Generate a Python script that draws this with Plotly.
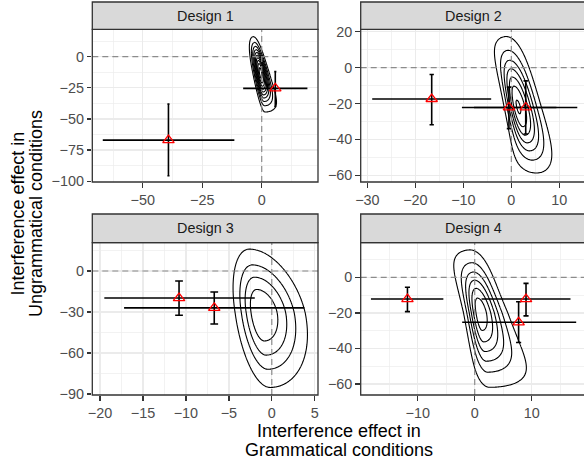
import numpy as np
import plotly.graph_objects as go

W, H = 584, 461

PANEL_TITLES = ["Design 1", "Design 2", "Design 3", "Design 4"]
X_TITLE_LINES = ["Interference effect in", "Grammatical conditions"]
Y_TITLE_LINES = ["Interference effect in", "Ungrammatical conditions"]

# ---- summary points (estimate + interval bounds) ----
PT_X = [[-39.2, 5.7], [-16.6, -0.5, 3.0], [-10.8, -6.7], [-11.8, 9.0, 7.7]]
PT_Y = [[-67.0, -25.5], [-17.5, -22.2, -22.2], [-19.8, -27.0], [-12.2, -12.2, -25.3]]
X_LO = [[-66.8, -7.8], [-29.0, -10.3, -7.8], [-19.5, -17.2], [-18.2, 1.2, -2.2]]
X_HI = [[-11.5, 19.2], [-4.2, 9.4, 13.75], [-1.98, 3.8], [-5.5, 16.8, 17.8]]
Y_LO = [[-95.6, -40.0], [-31.8, -34.0, -37.0], [-32.4, -38.8], [-19.3, -21.7, -36.7]]
Y_HI = [[-38.1, -12.0], [-3.9, -10.9, -7.4], [-7.3, -15.4], [-5.6, -3.4, -13.7]]

# ---- density shape parameters per panel (posterior density contours) ----
D_MY  = [-13.0, -22.0, -31.0, -20.0]
D_SYU = [13.4, 19.8, 26.2, 18.2]
D_SYD = [14.5, 18.5, 30.2, 21.5]
D_C0  = [-0.5, 1.4, -1.3, 0.9]
D_B1  = [-1.13, -1.576, -0.67, -0.888]
D_B2  = [-0.117, 0.173, -0.031, 0.0]
D_SL0 = [1.5, 1.46, 1.65, 1.47]
D_GL1 = [0.1, -0.048, 0.0, 0.143]
D_GL2 = [0.0, 0.227, 0.0, 0.159]
D_SR0 = [1.7, 2.45, 2.9, 2.52]
D_GR1 = [-0.3, -0.108, -0.05, -0.319]
D_GR2 = [0.1, 0.059, 0.0, 0.132]
LEVEL_STEP = [0.095, 0.14, 0.2, 0.15]
N_LEVELS = [10, 7, 4, 6]

# ---- axes ----
X_TICKS = [[-50, -25, 0], [-30, -20, -10, 0, 10], [-20, -15, -10, -5, 0, 5], [-10, 0, 10]]
Y_TICKS = [[0, -25, -50, -75, -100], [20, 0, -20, -40, -60], [0, -30, -60, -90], [0, -20, -40, -60]]
X_RANGE = [[-71.2, 23.65], [-31.4, 15.15], [-20.9, 5.38], [-20.0, 19.17]]
Y_RANGE = [[-100.6, 21.95], [-63.7, 21.3], [-90.7, 20.7], [-66.2, 19.5]]

CAP_WIDTH = 0.9  # data units

# layout in pixels
PX_L = [92.3, 360.7, 92.3, 360.7]
PX_R = [318.0, 584.0, 318.0, 584.0]
PX_T = [29.3, 29.3, 242.7, 242.7]
PX_B = [182.0, 182.0, 395.0, 395.0]
STRIP_T = [2.0, 2.0, 214.0, 214.0]

FONT = "Liberation Sans, Arial, sans-serif"


def fmt(v):
    s = f"{v:g}"
    return s.replace("-", "\u2212")


def density(X, Y, i):
    u = np.where(Y > D_MY[i], (Y - D_MY[i]) / D_SYU[i], (Y - D_MY[i]) / D_SYD[i])
    c = D_C0[i] + D_B1[i] * u + D_B2[i] * u ** 2
    sl = D_SL0[i] * np.exp(D_GL1[i] * u + D_GL2[i] * u ** 2)
    sr = D_SR0[i] * np.exp(D_GR1[i] * u + D_GR2[i] * u ** 2)
    v = np.where(X < c, (X - c) / sl, (X - c) / sr)
    return np.exp(-0.5 * (u ** 2 + v ** 2))


def minors(ticks, rng):
    t = sorted(ticks)
    step = t[1] - t[0]
    out = []
    v = t[0] - step / 2
    while v > rng[0]:
        out.append(v)
        v -= step
    v = t[0] + step / 2
    while v < rng[1]:
        out.append(v)
        v += step
    return out


fig = go.Figure()
shapes = []
annotations = []
layout_axes = {}

for i in range(4):
    k = i + 1
    sfx = "" if k == 1 else str(k)
    xa, ya = f"x{sfx}", f"y{sfx}"
    xr, yr = X_RANGE[i], Y_RANGE[i]

    # dashed zero reference lines
    dash = dict(color="#8C8C8C", width=1.2, dash="6px,4px")
    fig.add_trace(go.Scatter(x=[0, 0], y=yr, xaxis=xa, yaxis=ya, mode="lines", line=dash,
                             hoverinfo="skip", showlegend=False))
    fig.add_trace(go.Scatter(x=xr, y=[0, 0], xaxis=xa, yaxis=ya, mode="lines", line=dash,
                             hoverinfo="skip", showlegend=False))

    # density contours
    gx = np.linspace(xr[0], xr[1], 260)
    gy = np.linspace(yr[0], yr[1], 260)
    GX, GY = np.meshgrid(gx, gy)
    Z = density(GX, GY, i)
    s = LEVEL_STEP[i]
    fig.add_trace(go.Contour(
        x=gx, y=gy, z=Z, xaxis=xa, yaxis=ya,
        contours=dict(coloring="none", start=s, end=s * (N_LEVELS[i] + 0.5), size=s),
        line=dict(color="black", width=1.1), showscale=False, hoverinfo="skip",
        showlegend=False,
    ))

    # error bars + points
    ppu = (PX_R[i] - PX_L[i]) / (xr[1] - xr[0])
    px_ = PT_X[i]
    py_ = PT_Y[i]
    fig.add_trace(go.Scatter(
        x=px_, y=py_, xaxis=xa, yaxis=ya, mode="markers",
        marker=dict(symbol="triangle-up-open", size=10, color="red", line=dict(width=1.3, color="red")),
        error_x=dict(type="data", symmetric=False,
                     array=[h - x for h, x in zip(X_HI[i], px_)],
                     arrayminus=[x - l for l, x in zip(X_LO[i], px_)],
                     color="black", thickness=1.6, width=0),
        error_y=dict(type="data", symmetric=False,
                     array=[h - y for h, y in zip(Y_HI[i], py_)],
                     arrayminus=[y - l for l, y in zip(Y_LO[i], py_)],
                     color="black", thickness=1.6, width=CAP_WIDTH / 2 * ppu),
        hoverinfo="skip", showlegend=False,
    ))

    xdom = [PX_L[i] / W, PX_R[i] / W]
    ydom = [1 - PX_B[i] / H, 1 - PX_T[i] / H]
    common = dict(showgrid=True, gridcolor="#EBEBEB", gridwidth=1.3, zeroline=False,
                  ticks="outside", ticklen=4.5, tickwidth=1.3, tickcolor="#333333",
                  tickfont=dict(size=14.4, color="#4D4D4D", family=FONT),
                  showline=False, fixedrange=True, automargin=False)
    layout_axes[f"xaxis{sfx}"] = dict(domain=xdom, range=xr, anchor=ya,
                                      tickvals=X_TICKS[i], ticktext=[fmt(v) for v in X_TICKS[i]],
                                      minor=dict(tickvals=minors(X_TICKS[i], xr), showgrid=True,
                                                 gridcolor="#EBEBEB", gridwidth=0.65),
                                      **common)
    layout_axes[f"yaxis{sfx}"] = dict(domain=ydom, range=yr, anchor=xa,
                                      tickvals=Y_TICKS[i], ticktext=[fmt(v) for v in Y_TICKS[i]],
                                      minor=dict(tickvals=minors(Y_TICKS[i], yr), showgrid=True,
                                                 gridcolor="#EBEBEB", gridwidth=0.65),
                                      **common)

    right_px = PX_R[i] if PX_R[i] < W else 587.5
    # panel border
    shapes.append(dict(type="rect", xref="paper", yref="paper",
                       x0=PX_L[i] / W, x1=right_px / W, y0=1 - PX_B[i] / H, y1=1 - PX_T[i] / H,
                       line=dict(color="#333333", width=1.3), fillcolor="rgba(0,0,0,0)", layer="above"))
    # strip
    shapes.append(dict(type="rect", xref="paper", yref="paper",
                       x0=PX_L[i] / W, x1=right_px / W, y0=1 - PX_T[i] / H, y1=1 - STRIP_T[i] / H,
                       line=dict(color="#333333", width=1.3), fillcolor="#D9D9D9", layer="above"))
    cx = (PX_L[i] + (PX_R[i] if PX_R[i] < W else 586.0)) / 2
    annotations.append(dict(text=PANEL_TITLES[i], xref="paper", yref="paper",
                            x=cx / W, y=1 - (PX_T[i] + STRIP_T[i]) / 2 / H,
                            xanchor="center", yanchor="middle", showarrow=False,
                            font=dict(size=14.4, color="#1A1A1A", family=FONT)))

# axis titles, one annotation per line for ggplot-like line spacing
for txt, yc in zip(X_TITLE_LINES, [431, 450]):
    annotations.append(dict(text=txt, xref="paper", yref="paper",
                            x=339 / W, y=1 - yc / H, xanchor="center", yanchor="middle",
                            showarrow=False, font=dict(size=18, color="black", family=FONT)))
for txt, xc in zip(Y_TITLE_LINES, [17.5, 36.0]):
    annotations.append(dict(text=txt, xref="paper", yref="paper",
                            x=xc / W, y=1 - 214 / H, xanchor="center", yanchor="middle",
                            showarrow=False, textangle=-90,
                            font=dict(size=18, color="black", family=FONT)))

fig.update_layout(
    template="none",
    width=W, height=H, autosize=False,
    margin=dict(l=0, r=0, t=0, b=0, pad=0, autoexpand=False),
    paper_bgcolor="white", plot_bgcolor="white",
    font=dict(family=FONT),
    shapes=shapes, annotations=annotations, showlegend=False,
    **layout_axes,
)

fig.write_html(
    "out.html",
    config={"displayModeBar": False, "staticPlot": True},
    post_script="document.body.style.margin='0px';document.body.style.padding='0px';"
                "document.body.style.overflow='hidden';document.documentElement.style.overflow='hidden';",
)
